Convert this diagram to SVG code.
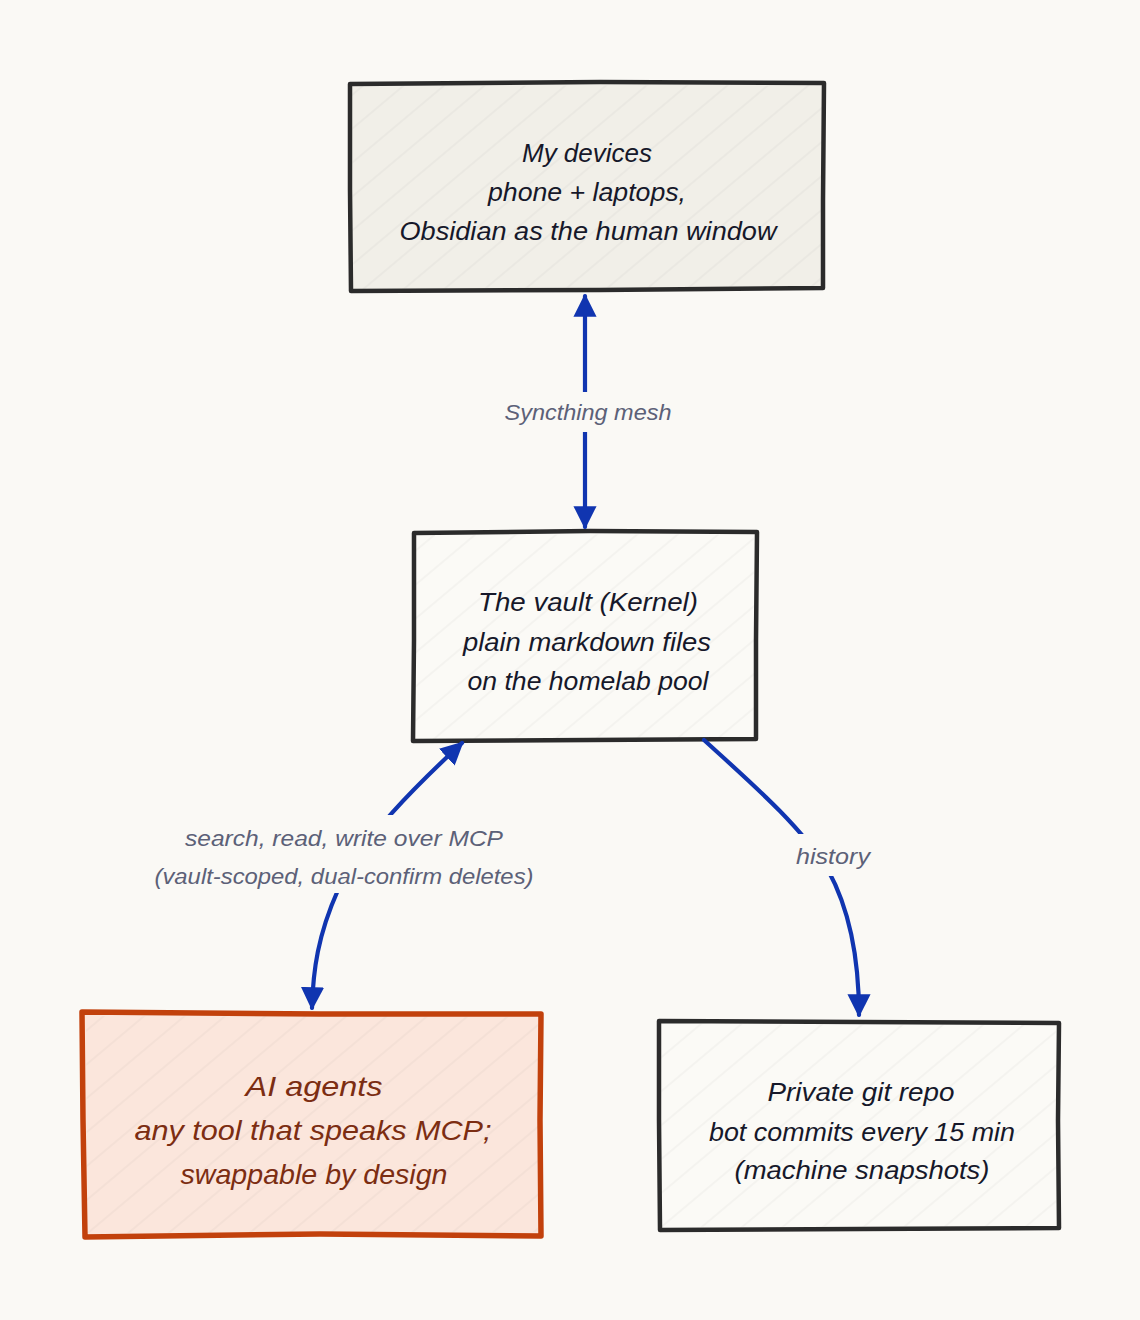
<svg xmlns="http://www.w3.org/2000/svg" width="1140" height="1320" viewBox="0 0 1140 1320">
<style>
.node{stroke:#2b2b2b;stroke-width:4.5;stroke-linejoin:round;stroke-linecap:round}
.neutral{fill:#f1efe8}
.plain{fill:#fbfaf6}
.agent{fill:#fbe6dc;stroke:#c2410c;stroke-width:5.5}
.hatch{fill:url(#hatch);stroke:none}
.t{font-family:"Liberation Sans",Arial,sans-serif;font-style:italic;font-size:26px;fill:#16182a;text-anchor:middle}
.ta{fill:#7c2d12;font-size:28px}
.lbl{font-family:"Liberation Sans",Arial,sans-serif;font-style:italic;font-size:22px;fill:#5c6178;text-anchor:middle}
.edge{fill:none;stroke:#1035b0;stroke-width:4.2;stroke-linecap:round}
.lblbg{fill:#faf9f5}
</style>
<defs>
<pattern id="hatch" width="26" height="26" patternUnits="userSpaceOnUse" patternTransform="rotate(-40)">
<line x1="0" y1="13" x2="26" y2="13" stroke="#000" stroke-opacity="0.05" stroke-width="1"/>
</pattern>
<marker id="arr" viewBox="0 0 20 20" refX="18" refY="10" markerWidth="5.5" markerHeight="5.5" orient="auto-start-reverse" markerUnits="strokeWidth">
<path d="M0,0 L20,10 L0,20 Z" fill="#1035b0"/>
</marker>
</defs>
<rect width="1140" height="1320" fill="#faf9f5"/>

<g id="devices">
<path class="node neutral" d="M350,84 L600,82 L824,83 L823,200 L823,288 L600,290 L351,291 L350,190 Z"/>
<path class="hatch" d="M352,86 L822,85 L821,286 L353,289 Z"/>
<text class="t" x="587" y="162" textLength="130" lengthAdjust="spacingAndGlyphs">My devices</text>
<text class="t" x="587" y="201" textLength="198" lengthAdjust="spacingAndGlyphs">phone + laptops,</text>
<text class="t" x="588" y="240" textLength="377" lengthAdjust="spacingAndGlyphs">Obsidian as the human window</text>
</g>

<g id="vault">
<path class="node plain" d="M414,533 L590,531 L757,532 L756,640 L756,739 L590,740 L413,741 L414,640 Z"/>
<path class="hatch" d="M416,535 L754,534 L754,737 L416,739 Z"/>
<text class="t" x="588" y="611" textLength="220" lengthAdjust="spacingAndGlyphs">The vault (Kernel)</text>
<text class="t" x="587" y="651" textLength="248" lengthAdjust="spacingAndGlyphs">plain markdown files</text>
<text class="t" x="588" y="690" textLength="241" lengthAdjust="spacingAndGlyphs">on the homelab pool</text>
</g>

<g id="agents">
<path class="node agent" d="M82,1012 L320,1014 L541,1014 L540,1120 L541,1236 L320,1234 L85,1237 L83,1120 Z"/>
<path class="hatch" d="M86,1016 L538,1017 L538,1232 L87,1233 Z"/>
<text class="t ta" x="314" y="1096" textLength="137" lengthAdjust="spacingAndGlyphs">AI agents</text>
<text class="t ta" x="313" y="1140" textLength="357" lengthAdjust="spacingAndGlyphs">any tool that speaks MCP;</text>
<text class="t ta" x="314" y="1184" textLength="267" lengthAdjust="spacingAndGlyphs">swappable by design</text>
</g>

<g id="git">
<path class="node plain" d="M659,1021 L860,1022 L1059,1023 L1058,1120 L1059,1228 L860,1229 L660,1230 L659,1120 Z"/>
<path class="hatch" d="M661,1024 L1056,1025 L1056,1226 L662,1227 Z"/>
<text class="t" x="861" y="1101" textLength="187" lengthAdjust="spacingAndGlyphs">Private git repo</text>
<text class="t" x="862" y="1141" textLength="306" lengthAdjust="spacingAndGlyphs">bot commits every 15 min</text>
<text class="t" x="862" y="1179" textLength="255" lengthAdjust="spacingAndGlyphs">(machine snapshots)</text>
</g>

<g id="connectors">
<path class="edge" d="M585,296 L585,527" marker-start="url(#arr)" marker-end="url(#arr)"/>
<rect class="lblbg" x="500" y="392" width="178" height="40"/>
<text class="lbl" x="588" y="420" textLength="167" lengthAdjust="spacingAndGlyphs">Syncthing mesh</text>

<path class="edge" d="M462,743 C420,782 360,840 338,890 C318,935 313,970 312,1008" marker-start="url(#arr)" marker-end="url(#arr)"/>
<rect class="lblbg" x="150" y="815" width="388" height="78"/>
<text class="lbl" x="344" y="846" textLength="318" lengthAdjust="spacingAndGlyphs">search, read, write over MCP</text>
<text class="lbl" x="344" y="884" textLength="379" lengthAdjust="spacingAndGlyphs">(vault-scoped, dual-confirm deletes)</text>

<path class="edge" d="M704,740 C750,782 800,825 828,870 C850,910 859,960 859,1015" marker-end="url(#arr)"/>
<rect class="lblbg" x="790" y="834" width="86" height="42"/>
<text class="lbl" x="833" y="864" textLength="74" lengthAdjust="spacingAndGlyphs">history</text>
</g>
</svg>
